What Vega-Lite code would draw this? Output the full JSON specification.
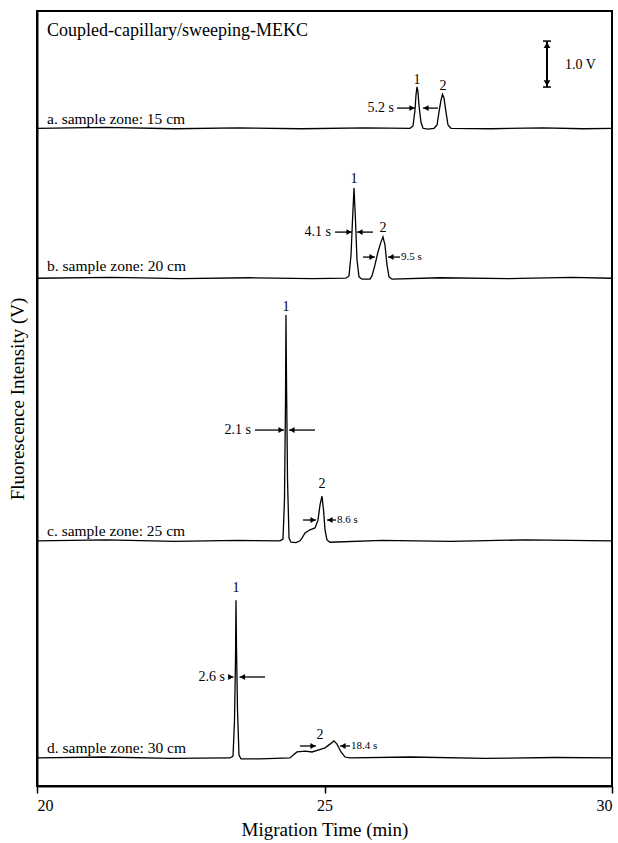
{
  "$schema": "https://vega.github.io/schema/vega-lite/v6.json",
  "width": 575,
  "height": 775,
  "autosize": "none",
  "padding": {"left": 37, "top": 11, "right": 6, "bottom": 57},
  "background": "white",
  "config": {
    "font": "Liberation Serif",
    "view": {"stroke": "black", "strokeWidth": 2},
    "text": {"font": "Liberation Serif", "fill": "black"},
    "axis": {"labelFont": "Liberation Serif", "titleFont": "Liberation Serif", "labelColor": "black", "titleColor": "black", "titleFontWeight": "normal", "domainColor": "black", "domainWidth": 2, "tickColor": "black", "tickWidth": 1.5, "grid": false}
  },
  "datasets": {
    "traces": [
      {"trace": "a", "t": 20, "v": 14.30}, {"trace": "a", "t": 21.2, "v": 14.32}, {"trace": "a", "t": 22.4, "v": 14.29}, {"trace": "a", "t": 23.5, "v": 14.31}, {"trace": "a", "t": 24.6, "v": 14.29}, {"trace": "a", "t": 25.7, "v": 14.31}, {"trace": "a", "t": 26.487, "v": 14.30}, {"trace": "a", "t": 26.539, "v": 14.35}, {"trace": "a", "t": 26.574, "v": 14.70}, {"trace": "a", "t": 26.591, "v": 15.02}, {"trace": "a", "t": 26.609, "v": 15.20}, {"trace": "a", "t": 26.626, "v": 15.09}, {"trace": "a", "t": 26.643, "v": 14.80}, {"trace": "a", "t": 26.678, "v": 14.43}, {"trace": "a", "t": 26.713, "v": 14.30}, {"trace": "a", "t": 26.800, "v": 14.28}, {"trace": "a", "t": 26.904, "v": 14.30}, {"trace": "a", "t": 26.957, "v": 14.37}, {"trace": "a", "t": 26.991, "v": 14.65}, {"trace": "a", "t": 27.026, "v": 14.91}, {"trace": "a", "t": 27.052, "v": 15.04}, {"trace": "a", "t": 27.078, "v": 14.96}, {"trace": "a", "t": 27.113, "v": 14.65}, {"trace": "a", "t": 27.148, "v": 14.37}, {"trace": "a", "t": 27.200, "v": 14.30}, {"trace": "a", "t": 27.9, "v": 14.29}, {"trace": "a", "t": 28.8, "v": 14.31}, {"trace": "a", "t": 29.5, "v": 14.29}, {"trace": "a", "t": 30, "v": 14.30},
      {"trace": "b", "t": 20, "v": 11.04}, {"trace": "b", "t": 21.3, "v": 11.06}, {"trace": "b", "t": 22.5, "v": 11.03}, {"trace": "b", "t": 23.7, "v": 11.05}, {"trace": "b", "t": 24.8, "v": 11.03}, {"trace": "b", "t": 25.374, "v": 11.04}, {"trace": "b", "t": 25.426, "v": 11.09}, {"trace": "b", "t": 25.461, "v": 11.54}, {"trace": "b", "t": 25.487, "v": 12.30}, {"trace": "b", "t": 25.513, "v": 13.00}, {"trace": "b", "t": 25.539, "v": 12.30}, {"trace": "b", "t": 25.565, "v": 11.44}, {"trace": "b", "t": 25.600, "v": 11.07}, {"trace": "b", "t": 25.652, "v": 11.02}, {"trace": "b", "t": 25.791, "v": 11.02}, {"trace": "b", "t": 25.826, "v": 11.09}, {"trace": "b", "t": 25.878, "v": 11.33}, {"trace": "b", "t": 25.930, "v": 11.61}, {"trace": "b", "t": 25.983, "v": 11.83}, {"trace": "b", "t": 26.017, "v": 11.94}, {"trace": "b", "t": 26.052, "v": 11.76}, {"trace": "b", "t": 26.087, "v": 11.33}, {"trace": "b", "t": 26.122, "v": 11.07}, {"trace": "b", "t": 26.174, "v": 11.02}, {"trace": "b", "t": 27.0, "v": 11.05}, {"trace": "b", "t": 28.2, "v": 11.03}, {"trace": "b", "t": 29.3, "v": 11.06}, {"trace": "b", "t": 30, "v": 11.04},
      {"trace": "c", "t": 20, "v": 5.33}, {"trace": "c", "t": 21.2, "v": 5.35}, {"trace": "c", "t": 22.4, "v": 5.32}, {"trace": "c", "t": 23.5, "v": 5.34}, {"trace": "c", "t": 24.226, "v": 5.33}, {"trace": "c", "t": 24.278, "v": 5.37}, {"trace": "c", "t": 24.304, "v": 6.22}, {"trace": "c", "t": 24.322, "v": 8.39}, {"trace": "c", "t": 24.330, "v": 10.24}, {"trace": "c", "t": 24.339, "v": 8.83}, {"trace": "c", "t": 24.357, "v": 6.65}, {"trace": "c", "t": 24.383, "v": 5.39}, {"trace": "c", "t": 24.417, "v": 5.30}, {"trace": "c", "t": 24.504, "v": 5.29}, {"trace": "c", "t": 24.574, "v": 5.33}, {"trace": "c", "t": 24.609, "v": 5.39}, {"trace": "c", "t": 24.661, "v": 5.50}, {"trace": "c", "t": 24.748, "v": 5.57}, {"trace": "c", "t": 24.835, "v": 5.61}, {"trace": "c", "t": 24.887, "v": 5.78}, {"trace": "c", "t": 24.922, "v": 6.11}, {"trace": "c", "t": 24.957, "v": 6.30}, {"trace": "c", "t": 24.983, "v": 6.00}, {"trace": "c", "t": 25.009, "v": 5.57}, {"trace": "c", "t": 25.043, "v": 5.35}, {"trace": "c", "t": 25.096, "v": 5.30}, {"trace": "c", "t": 26.0, "v": 5.34}, {"trace": "c", "t": 27.2, "v": 5.32}, {"trace": "c", "t": 28.5, "v": 5.35}, {"trace": "c", "t": 30, "v": 5.33},
      {"trace": "d", "t": 20, "v": 0.61}, {"trace": "d", "t": 21.2, "v": 0.63}, {"trace": "d", "t": 22.3, "v": 0.60}, {"trace": "d", "t": 23.357, "v": 0.61}, {"trace": "d", "t": 23.409, "v": 0.65}, {"trace": "d", "t": 23.435, "v": 1.43}, {"trace": "d", "t": 23.452, "v": 2.74}, {"trace": "d", "t": 23.461, "v": 4.04}, {"trace": "d", "t": 23.470, "v": 2.96}, {"trace": "d", "t": 23.487, "v": 1.65}, {"trace": "d", "t": 23.513, "v": 0.67}, {"trace": "d", "t": 23.548, "v": 0.59}, {"trace": "d", "t": 23.878, "v": 0.59}, {"trace": "d", "t": 24.400, "v": 0.61}, {"trace": "d", "t": 24.452, "v": 0.67}, {"trace": "d", "t": 24.522, "v": 0.74}, {"trace": "d", "t": 24.661, "v": 0.76}, {"trace": "d", "t": 24.783, "v": 0.74}, {"trace": "d", "t": 24.887, "v": 0.78}, {"trace": "d", "t": 25.009, "v": 0.83}, {"trace": "d", "t": 25.096, "v": 0.91}, {"trace": "d", "t": 25.165, "v": 0.98}, {"trace": "d", "t": 25.217, "v": 0.91}, {"trace": "d", "t": 25.287, "v": 0.74}, {"trace": "d", "t": 25.357, "v": 0.63}, {"trace": "d", "t": 25.443, "v": 0.61}, {"trace": "d", "t": 26.5, "v": 0.63}, {"trace": "d", "t": 27.8, "v": 0.60}, {"trace": "d", "t": 29.0, "v": 0.62}, {"trace": "d", "t": 30, "v": 0.61}
    ],
    "arrows": [
      {"x1": 26.261, "x2": 26.574, "hx": 26.522, "y": 14.739, "dir": "right"},
      {"x1": 26.974, "x2": 26.713, "hx": 26.765, "y": 14.739, "dir": "left"},
      {"x1": 25.183, "x2": 25.478, "hx": 25.426, "y": 12.043, "dir": "right"},
      {"x1": 25.843, "x2": 25.565, "hx": 25.617, "y": 12.043, "dir": "left"},
      {"x1": 25.670, "x2": 25.878, "hx": 25.826, "y": 11.5, "dir": "right"},
      {"x1": 26.313, "x2": 26.104, "hx": 26.157, "y": 11.5, "dir": "left"},
      {"x1": 23.791, "x2": 24.296, "hx": 24.243, "y": 7.739, "dir": "right"},
      {"x1": 24.835, "x2": 24.383, "hx": 24.435, "y": 7.739, "dir": "left"},
      {"x1": 24.626, "x2": 24.852, "hx": 24.800, "y": 5.783, "dir": "right"},
      {"x1": 25.200, "x2": 25.043, "hx": 25.096, "y": 5.783, "dir": "left"},
      {"x1": 23.322, "x2": 23.417, "hx": 23.370, "y": 2.370, "dir": "right"},
      {"x1": 23.965, "x2": 23.522, "hx": 23.574, "y": 2.370, "dir": "left"},
      {"x1": 24.574, "x2": 24.852, "hx": 24.800, "y": 0.870, "dir": "right"},
      {"x1": 25.443, "x2": 25.270, "hx": 25.322, "y": 0.870, "dir": "left"}
    ],
    "bar": [
      {"x": 28.870, "lo": 15.196, "hi": 16.196, "capL": 28.800, "capR": 28.939}
    ],
    "barheads": [
      {"x": 28.870, "y": 16.109, "dir": "up"},
      {"x": 28.870, "y": 15.283, "dir": "down"}
    ],
    "labels": [
      {"kind": "title", "text": "Coupled-capillary/sweeping-MEKC", "x": 20.174, "y": 16.413},
      {"kind": "trace", "text": "a. sample zone: 15 cm", "x": 20.174, "y": 14.5},
      {"kind": "trace", "text": "b. sample zone: 20 cm", "x": 20.174, "y": 11.304},
      {"kind": "trace", "text": "c. sample zone: 25 cm", "x": 20.174, "y": 5.543},
      {"kind": "trace", "text": "d. sample zone: 30 cm", "x": 20.174, "y": 0.826},
      {"kind": "scale", "text": "1.0 V", "x": 29.183, "y": 15.674},
      {"kind": "peak", "text": "1", "x": 26.609, "y": 15.348},
      {"kind": "peak", "text": "2", "x": 27.061, "y": 15.217},
      {"kind": "peak", "text": "1", "x": 25.513, "y": 13.196},
      {"kind": "peak", "text": "2", "x": 26.017, "y": 12.130},
      {"kind": "peak", "text": "1", "x": 24.330, "y": 10.413},
      {"kind": "peak", "text": "2", "x": 24.957, "y": 6.565},
      {"kind": "peak", "text": "1", "x": 23.461, "y": 4.304},
      {"kind": "peak", "text": "2", "x": 24.922, "y": 1.109},
      {"kind": "width1", "text": "5.2 s", "x": 26.209, "y": 14.739},
      {"kind": "width1", "text": "4.1 s", "x": 25.113, "y": 12.043},
      {"kind": "width1", "text": "2.1 s", "x": 23.722, "y": 7.739},
      {"kind": "width1", "text": "2.6 s", "x": 23.270, "y": 2.370},
      {"kind": "width2", "text": "9.5 s", "x": 26.330, "y": 11.5},
      {"kind": "width2", "text": "8.6 s", "x": 25.217, "y": 5.783},
      {"kind": "width2", "text": "18.4 s", "x": 25.461, "y": 0.870}
    ]
  },
  "layer": [
    {
      "data": {"name": "traces"},
      "mark": {"type": "line", "color": "black", "strokeWidth": 1.3},
      "encoding": {
        "x": {"field": "t", "type": "quantitative", "scale": {"domain": [20, 30], "nice": false},
              "axis": {"values": [20, 25, 30], "format": "d", "title": "Migration Time (min)", "tickSize": 7, "labelPadding": 4, "labelFontSize": 16, "titleFontSize": 19, "titlePadding": 7}},
        "y": {"field": "v", "type": "quantitative", "scale": {"domain": [0, 16.85], "nice": false, "zero": false},
              "axis": {"title": "Fluorescence Intensity (V)", "labels": false, "ticks": false, "titleFontSize": 19, "titlePadding": 10}},
        "detail": {"field": "trace"}
      }
    },
    {
      "data": {"name": "arrows"},
      "mark": {"type": "rule", "color": "black", "strokeWidth": 1.3},
      "encoding": {
        "x": {"field": "x1", "type": "quantitative"},
        "x2": {"field": "x2"},
        "y": {"field": "y", "type": "quantitative"}
      }
    },
    {
      "data": {"name": "arrows"},
      "mark": {"type": "point", "filled": true, "color": "black", "opacity": 1, "size": 35},
      "encoding": {
        "x": {"field": "hx", "type": "quantitative"},
        "y": {"field": "y", "type": "quantitative"},
        "shape": {"field": "dir", "type": "nominal", "scale": {"domain": ["right", "left", "up", "down"], "range": ["triangle-right", "triangle-left", "triangle-up", "triangle-down"]}, "legend": null}
      }
    },
    {
      "data": {"name": "bar"},
      "mark": {"type": "rule", "color": "black", "strokeWidth": 2},
      "encoding": {
        "x": {"field": "x", "type": "quantitative"},
        "y": {"field": "lo", "type": "quantitative"},
        "y2": {"field": "hi"}
      }
    },
    {
      "data": {"name": "bar"},
      "mark": {"type": "rule", "color": "black", "strokeWidth": 1.5},
      "encoding": {
        "x": {"field": "capL", "type": "quantitative"},
        "x2": {"field": "capR"},
        "y": {"field": "hi", "type": "quantitative"}
      }
    },
    {
      "data": {"name": "bar"},
      "mark": {"type": "rule", "color": "black", "strokeWidth": 1.5},
      "encoding": {
        "x": {"field": "capL", "type": "quantitative"},
        "x2": {"field": "capR"},
        "y": {"field": "lo", "type": "quantitative"}
      }
    },
    {
      "data": {"name": "barheads"},
      "mark": {"type": "point", "filled": true, "color": "black", "opacity": 1, "size": 45},
      "encoding": {
        "x": {"field": "x", "type": "quantitative"},
        "y": {"field": "y", "type": "quantitative"},
        "shape": {"field": "dir", "type": "nominal", "legend": null}
      }
    },
    {
      "data": {"name": "labels"},
      "transform": [{"filter": "datum.kind === 'title'"}],
      "mark": {"type": "text", "align": "left", "baseline": "middle", "fontSize": 18, "color": "black", "font": "Liberation Serif"},
      "encoding": {
        "x": {"field": "x", "type": "quantitative"},
        "y": {"field": "y", "type": "quantitative"},
        "text": {"field": "text"}
      }
    },
    {
      "data": {"name": "labels"},
      "transform": [{"filter": "datum.kind === 'trace'"}],
      "mark": {"type": "text", "align": "left", "baseline": "middle", "fontSize": 15.5, "color": "black", "font": "Liberation Serif"},
      "encoding": {
        "x": {"field": "x", "type": "quantitative"},
        "y": {"field": "y", "type": "quantitative"},
        "text": {"field": "text"}
      }
    },
    {
      "data": {"name": "labels"},
      "transform": [{"filter": "datum.kind === 'scale'"}],
      "mark": {"type": "text", "align": "left", "baseline": "middle", "fontSize": 14, "color": "black", "font": "Liberation Serif"},
      "encoding": {
        "x": {"field": "x", "type": "quantitative"},
        "y": {"field": "y", "type": "quantitative"},
        "text": {"field": "text"}
      }
    },
    {
      "data": {"name": "labels"},
      "transform": [{"filter": "datum.kind === 'peak'"}],
      "mark": {"type": "text", "align": "center", "baseline": "middle", "fontSize": 14, "color": "black", "font": "Liberation Serif"},
      "encoding": {
        "x": {"field": "x", "type": "quantitative"},
        "y": {"field": "y", "type": "quantitative"},
        "text": {"field": "text"}
      }
    },
    {
      "data": {"name": "labels"},
      "transform": [{"filter": "datum.kind === 'width1'"}],
      "mark": {"type": "text", "align": "right", "baseline": "middle", "fontSize": 14, "color": "black", "font": "Liberation Serif"},
      "encoding": {
        "x": {"field": "x", "type": "quantitative"},
        "y": {"field": "y", "type": "quantitative"},
        "text": {"field": "text"}
      }
    },
    {
      "data": {"name": "labels"},
      "transform": [{"filter": "datum.kind === 'width2'"}],
      "mark": {"type": "text", "align": "left", "baseline": "middle", "fontSize": 11, "color": "black", "font": "Liberation Serif"},
      "encoding": {
        "x": {"field": "x", "type": "quantitative"},
        "y": {"field": "y", "type": "quantitative"},
        "text": {"field": "text"}
      }
    }
  ]
}
